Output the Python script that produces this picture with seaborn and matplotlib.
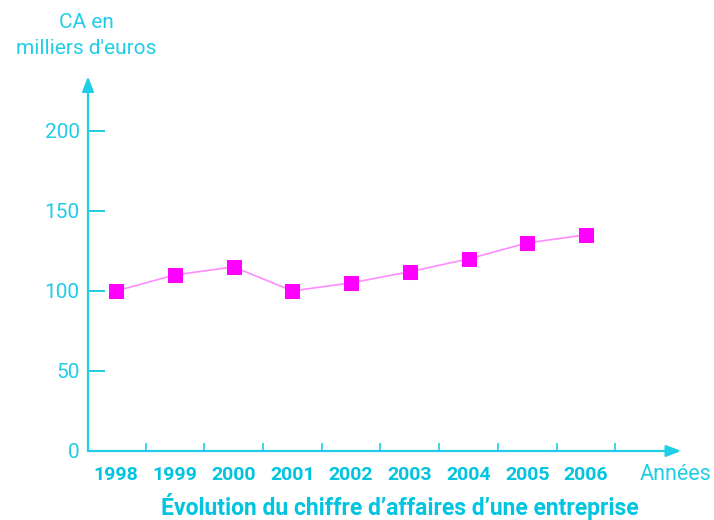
import numpy as np
import pandas as pd
import matplotlib
matplotlib.use("Agg")
import matplotlib.pyplot as plt
import seaborn as sns

# données
annees = ["1998", "1999", "2000", "2001", "2002", "2003", "2004", "2005", "2006"]
ca = [100, 110, 115, 100, 105, 112, 120, 130, 135]
graduations_y = [0, 50, 100, 150, 200]

CYAN = "#1fcde6"
CYAN_FONCE = "#00c4e0"

sns.set_style("white")
plt.rcParams["font.family"] = ["Roboto", "DejaVu Sans"]

df = pd.DataFrame({"pos": np.arange(len(annees)), "ca": ca})

fig = plt.figure(figsize=(7.14, 5.2), dpi=100)
ax = fig.add_axes([88 / 714, (520 - 451) / 520, (680 - 88) / 714, (451 - 78) / 520])

sns.lineplot(data=df, x="pos", y="ca", ax=ax, color="#ff8cff", linewidth=1.2,
             marker="s", markersize=9.5, markerfacecolor="#ff00ff",
             markeredgecolor="#ff00ff", zorder=3)

ax.set_xlim(-0.48, 9.6)
ax.set_ylim(0, 233)
for s in ax.spines.values():
    s.set_visible(False)

# axes avec flèches
fleche = dict(arrowstyle="-|>,head_length=0.9,head_width=0.35",
              color=CYAN, lw=1.6, shrinkA=0, shrinkB=0)
ax.annotate("", xy=(9.62, 0), xytext=(-0.48, 0), arrowprops=fleche, annotation_clip=False)
ax.annotate("", xy=(-0.48, 234), xytext=(-0.48, 0), arrowprops=fleche, annotation_clip=False)

# graduations
ax.set_yticks(graduations_y)
ax.set_yticklabels([str(v) for v in graduations_y])
ax.tick_params(axis="y", direction="in", length=12, width=1.4, color=CYAN,
               labelcolor=CYAN, labelsize=15, pad=6, left=True)
ax.set_xticks(np.arange(len(annees)))
ax.set_xticklabels(annees, fontweight="bold")
ax.tick_params(axis="x", length=0, labelcolor=CYAN_FONCE, labelsize=14, pad=11)
ax.set_xticks(np.arange(len(annees)) + 0.5, minor=True)
ax.tick_params(axis="x", which="minor", direction="in", length=6, width=1.2,
               color=CYAN, bottom=True)
ax.grid(False)
ax.set_xlabel("")
ax.set_ylabel("")

fig.text(86 / 714, 1 - 22 / 520, "CA en", ha="center", va="center",
         color=CYAN, fontsize=15)
fig.text(86 / 714, 1 - 48 / 520, "milliers d'euros", ha="center", va="center",
         color=CYAN, fontsize=15)
fig.text(676 / 714, 1 - 474 / 520, "Années", ha="center", va="center",
         color=CYAN, fontsize=15.5)
fig.text(400 / 714, 1 - 507 / 520, "Évolution du chiffre d’affaires d’une entreprise",
         ha="center", va="center", color=CYAN_FONCE, fontsize=16.5, fontweight="bold")

fig.savefig("out.png", dpi=100)
